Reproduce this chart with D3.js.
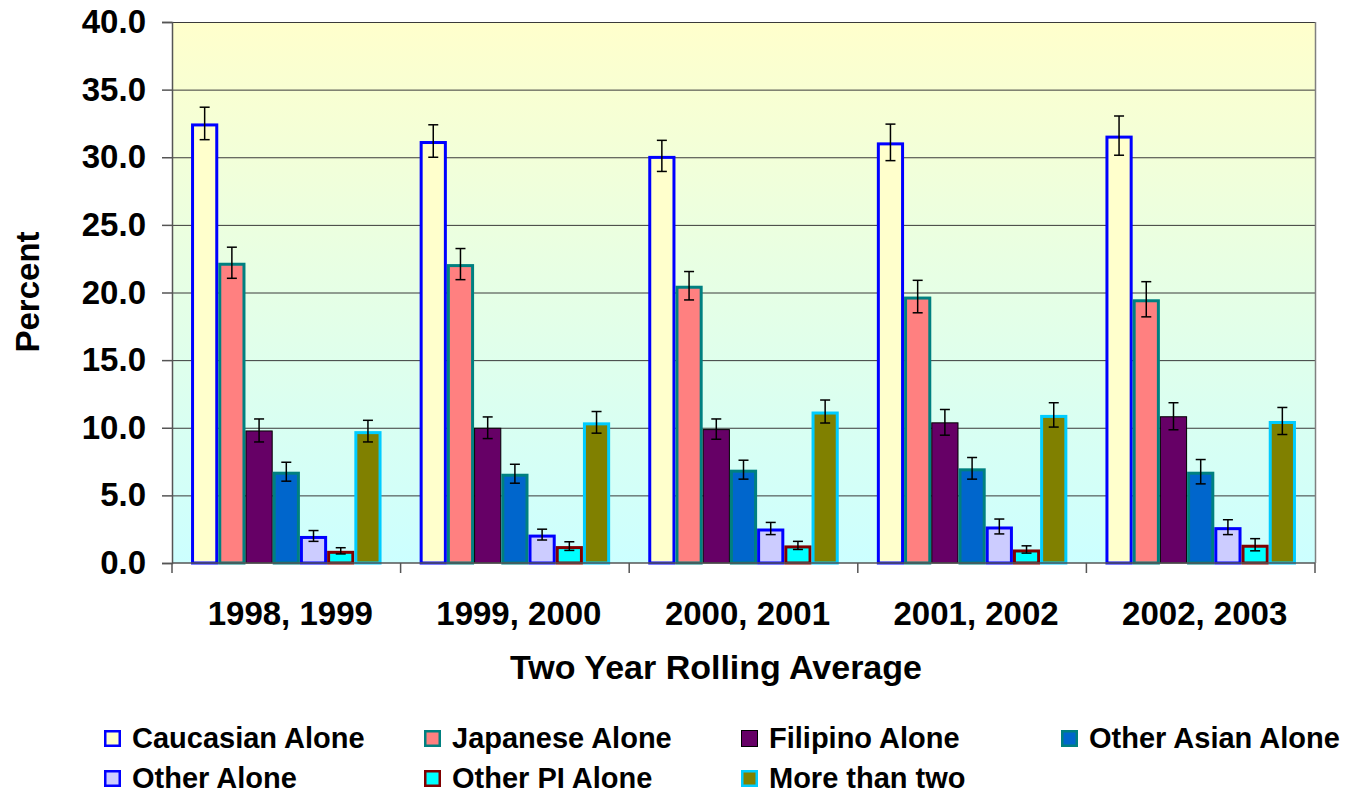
<!DOCTYPE html>
<html><head><meta charset="utf-8">
<script src="https://cdn.jsdelivr.net/npm/d3@7"></script>
<style>body{margin:0;background:#fff}svg{display:block;font-family:Arial,"Liberation Sans",sans-serif;font-weight:bold}</style>
</head><body><svg id="c" width="1353" height="793"></svg>
<script>
const categories = ["1998, 1999","1999, 2000","2000, 2001","2001, 2002","2002, 2003"];
const seriesNames = ["Caucasian Alone","Japanese Alone","Filipino Alone","Other Asian Alone","Other Alone","Other PI Alone","More than two"];
const caucasian  = [32.5, 31.2, 30.1, 31.1, 31.6];
const japanese   = [22.2, 22.1, 20.5, 19.7, 19.5];
const filipino   = [9.8, 10.0, 9.9, 10.4, 10.85];
const otherAsian = [6.75, 6.6, 6.9, 7.0, 6.75];
const otherAlone = [2.0, 2.1, 2.55, 2.7, 2.65];
const otherPI    = [0.9, 1.25, 1.3, 1.0, 1.35];
const moreThanTwo= [9.75, 10.4, 11.2, 10.95, 10.5];
const caucasianErr  = [1.2, 1.2, 1.15, 1.35, 1.45];
const japaneseErr   = [1.15, 1.15, 1.05, 1.2, 1.3];
const filipinoErr   = [0.85, 0.8, 0.75, 0.95, 1.0];
const otherAsianErr = [0.7, 0.7, 0.7, 0.8, 0.9];
const otherAloneErr = [0.4, 0.4, 0.45, 0.55, 0.55];
const otherPIErr    = [0.23, 0.32, 0.3, 0.27, 0.45];
const moreThanTwoErr= [0.8, 0.8, 0.85, 0.9, 1.0];
const yTicks = [0,5,10,15,20,25,30,35,40];

const values = [caucasian, japanese, filipino, otherAsian, otherAlone, otherPI, moreThanTwo];
const errors = [caucasianErr, japaneseErr, filipinoErr, otherAsianErr, otherAloneErr, otherPIErr, moreThanTwoErr];
const fills   = ["#ffffcc","#ff8080","#660066","#0066cc","#ccccff","#00ffff","#808000"];
const strokes = ["#0000ff","#008080","#000000","#008080","#0000ff","#800000","#00ccff"];
const strokeW = [3,3,1,3,3,3,3];

const svg = d3.select("#c");
const L=172, R=1315, T=22, B=563;
const x0 = d3.scaleBand().domain(categories).range([L,R]).padding(0);
const x1 = d3.scaleBand().domain(seriesNames).range([0,x0.bandwidth()]).paddingInner(0).paddingOuter(0.7);
const y = d3.scaleLinear().domain([0,40]).range([B,T]);

const defs = svg.append("defs");
const g = defs.append("linearGradient").attr("id","bg").attr("x1",0).attr("y1",0).attr("x2",0).attr("y2",1);
g.append("stop").attr("offset","0%").attr("stop-color","#ffffcc");
g.append("stop").attr("offset","100%").attr("stop-color","#ccffff");
svg.append("rect").attr("x",L).attr("y",T).attr("width",R-L).attr("height",B-T).attr("fill","url(#bg)");

// gridlines
svg.append("g").selectAll("line").data(yTicks.filter(d=>d>0)).join("line")
  .attr("x1",L).attr("x2",R).attr("y1",d=>y(d)+0.5).attr("y2",d=>y(d)+0.5)
  .attr("stroke","#3a3a3a").attr("stroke-width",1);
// right border
svg.append("line").attr("x1",R+0.5).attr("x2",R+0.5).attr("y1",T).attr("y2",B).attr("stroke","#808080").attr("stroke-width",1.5);

// bars
const rows = [];
seriesNames.forEach((s,si)=>categories.forEach((c,ci)=>rows.push({s,si,c,v:values[si][ci],e:errors[si][ci]})));
svg.append("g").selectAll("rect").data(rows).join("rect")
  .attr("x",d=>x0(d.c)+x1(d.s)+strokeW[d.si]/2)
  .attr("y",d=>y(d.v)+strokeW[d.si]/2)
  .attr("width",d=>x1.bandwidth()-strokeW[d.si])
  .attr("height",d=>y(0)-y(d.v)-strokeW[d.si]/2)
  .attr("fill",d=>fills[d.si]).attr("stroke",d=>strokes[d.si]).attr("stroke-width",d=>strokeW[d.si]);

// error bars
const eg = svg.append("g").attr("stroke","#000").attr("stroke-width",1.5);
rows.forEach(d=>{
  const cx = x0(d.c)+x1(d.s)+x1.bandwidth()/2;
  eg.append("line").attr("x1",cx).attr("x2",cx).attr("y1",y(d.v+d.e)).attr("y2",y(d.v-d.e));
  eg.append("line").attr("x1",cx-5).attr("x2",cx+5).attr("y1",y(d.v+d.e)).attr("y2",y(d.v+d.e));
  eg.append("line").attr("x1",cx-5).attr("x2",cx+5).attr("y1",y(d.v-d.e)).attr("y2",y(d.v-d.e));
});

// y axis
const ya = svg.append("g").attr("transform",`translate(${L},0)`)
  .call(d3.axisLeft(y).tickValues(yTicks).tickFormat(d3.format(".1f")).tickSize(10).tickPadding(16));
ya.select(".domain").attr("stroke","#555").attr("stroke-width",1.5);
ya.selectAll(".tick line").attr("stroke","#555").attr("stroke-width",1.5);
ya.selectAll("text").attr("font-size",33).attr("font-weight","bold").attr("fill","#000").attr("font-family","Arial, 'Liberation Sans', sans-serif");

// x axis
const xa = svg.append("g").attr("transform",`translate(0,${B})`)
  .call(d3.axisBottom(x0).tickSize(0).tickFormat(""));
xa.select(".domain").remove();
svg.append("line").attr("x1",L).attr("x2",R).attr("y1",B).attr("y2",B).attr("stroke","#555").attr("stroke-width",1.5);
const bounds = categories.map(c=>x0(c)).concat([R]);
svg.append("g").selectAll("line").data(bounds).join("line")
  .attr("x1",d=>d).attr("x2",d=>d).attr("y1",B).attr("y2",B+10).attr("stroke","#555").attr("stroke-width",1.5);
svg.append("g").selectAll("text").data(categories).join("text")
  .attr("x",d=>x0(d)+x0.bandwidth()/2+4).attr("y",625)
  .attr("text-anchor","middle").attr("font-size",33).text(d=>d);

// axis titles
svg.append("text").attr("x",716).attr("y",679).attr("text-anchor","middle").attr("font-size",34).text("Two Year Rolling Average");
svg.append("text").attr("transform","translate(39,292) rotate(-90)").attr("text-anchor","middle").attr("font-size",33).text("Percent");

// legend
const legX = [104,424,741,1061];
const leg = svg.append("g");
seriesNames.forEach((s,i)=>{
  const col = i<4 ? i : i-4, row = i<4 ? 0 : 1;
  const lx = legX[col], ly = row===0 ? 730 : 770;
  const sw = strokeW[i]===1 ? 1 : 2.5;
  leg.append("rect").attr("x",lx+sw/2).attr("y",ly+sw/2).attr("width",17-sw).attr("height",17-sw)
    .attr("fill",fills[i]).attr("stroke",strokes[i]).attr("stroke-width",sw);
  leg.append("text").attr("x",lx+28).attr("y",ly+18).attr("font-size",29).text(s);
});
</script></body></html>
